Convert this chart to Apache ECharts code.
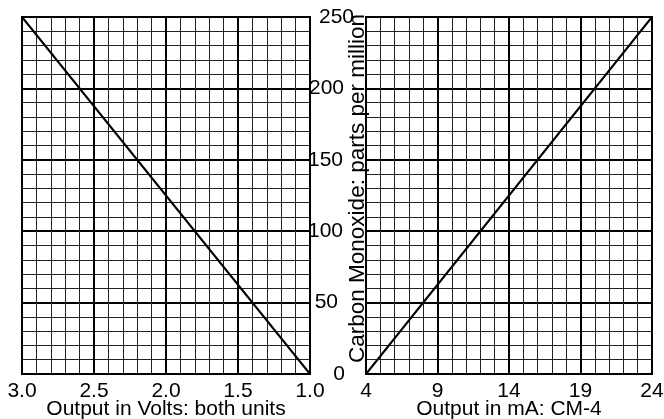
<!DOCTYPE html>
<html>
<head>
<meta charset="utf-8">
<style>
  html, body { margin: 0; padding: 0; background: #fff; }
  #chart { width: 664px; height: 419px; }
</style>
<script src="https://cdn.jsdelivr.net/npm/echarts@6/dist/echarts.min.js"></script>
</head>
<body>
<div id="chart"></div>
<script>
// volts (left panel, reversed axis) vs ppm
const voltsLine = [[3.0, 250], [1.0, 0]];
// mA (right panel) vs ppm
const maLine = [[4, 0], [24, 250]];
const maOffset = 4; // right axis starts at 4 mA
const ppmTicks = [0, 50, 100, 150, 200, 250];

const font = 'Liberation Sans, Arial, sans-serif';
const fs = 21;

// small per-label nudge, the original labels sit a bit irregularly
const labelPad = { 0: 9, 50: 16, 100: 11, 150: 11, 200: 10, 250: 0 };

const chart = echarts.init(document.getElementById('chart'));

function splitStyle() {
  return {
    splitLine: { show: true, lineStyle: { color: '#000', width: 2 } },
    minorTick: { show: false, splitNumber: 5 },
    minorSplitLine: { show: true, lineStyle: { color: '#222', width: 1 } },
    axisTick: { show: false }
  };
}

const option = {
  animation: false,
  grid: [
    { left: 22, top: 17, width: 288, height: 357, outerBoundsMode: 'none',
      show: true, borderColor: '#000', borderWidth: 2 },
    { left: 366, top: 17, width: 286, height: 357, outerBoundsMode: 'none',
      show: true, borderColor: '#000', borderWidth: 2 }
  ],
  xAxis: [
    Object.assign({
      gridIndex: 0, type: 'value', min: 1, max: 3, interval: 0.5, inverse: true,
      axisLine: { show: true, lineStyle: { color: '#000', width: 2 } },
      axisLabel: { color: '#000', fontSize: fs, fontFamily: font, margin: 7,
        formatter: v => v.toFixed(1) },
      name: 'Output in Volts: both units', nameLocation: 'middle', nameGap: 25,
      nameMoveOverlap: false,
      nameTextStyle: { color: '#000', fontSize: fs, fontFamily: font }
    }, splitStyle()),
    Object.assign({
      gridIndex: 1, type: 'value', min: 0, max: 20, interval: 5,
      axisLine: { show: true, lineStyle: { color: '#000', width: 2 } },
      axisLabel: { color: '#000', fontSize: fs, fontFamily: font, margin: 7,
        formatter: v => String(v + maOffset) },
      name: 'Output in mA: CM-4', nameLocation: 'middle', nameGap: 25,
      nameMoveOverlap: false,
      nameTextStyle: { color: '#000', fontSize: fs, fontFamily: font }
    }, splitStyle())
  ],
  yAxis: [
    Object.assign({
      gridIndex: 0, type: 'value', min: 0, max: 250, interval: 50,
      axisLine: { show: true, lineStyle: { color: '#000', width: 2 } },
      axisLabel: { show: false }
    }, splitStyle()),
    Object.assign({
      gridIndex: 1, type: 'value', min: 0, max: 250, interval: 50,
      axisLine: { show: true, lineStyle: { color: '#000', width: 2 } },
      axisLabel: {
        color: '#000', fontSize: fs, fontFamily: font, margin: 12,
        formatter: v => '{p' + v + '|' + v + '}',
        rich: Object.fromEntries(ppmTicks.map(t => ['p' + t, {
          color: '#000', fontSize: fs, fontFamily: font, padding: [0, labelPad[t], 0, 0]
        }]))
      },
      name: 'Carbon Monoxide: parts per million', nameLocation: 'middle', nameGap: -3,
      nameMoveOverlap: false,
      nameTextStyle: { color: '#000', fontSize: 22.5, fontFamily: font, padding: [0, 0, 0, 14] }
    }, splitStyle())
  ],
  series: [
    {
      type: 'line', xAxisIndex: 0, yAxisIndex: 0, data: voltsLine,
      symbol: 'none', lineStyle: { color: '#000', width: 2 }
    },
    {
      type: 'line', xAxisIndex: 1, yAxisIndex: 1,
      data: maLine.map(d => [d[0] - maOffset, d[1]]),
      symbol: 'none', lineStyle: { color: '#000', width: 2 }
    }
  ]
};

chart.setOption(option);
</script>
</body>
</html>
